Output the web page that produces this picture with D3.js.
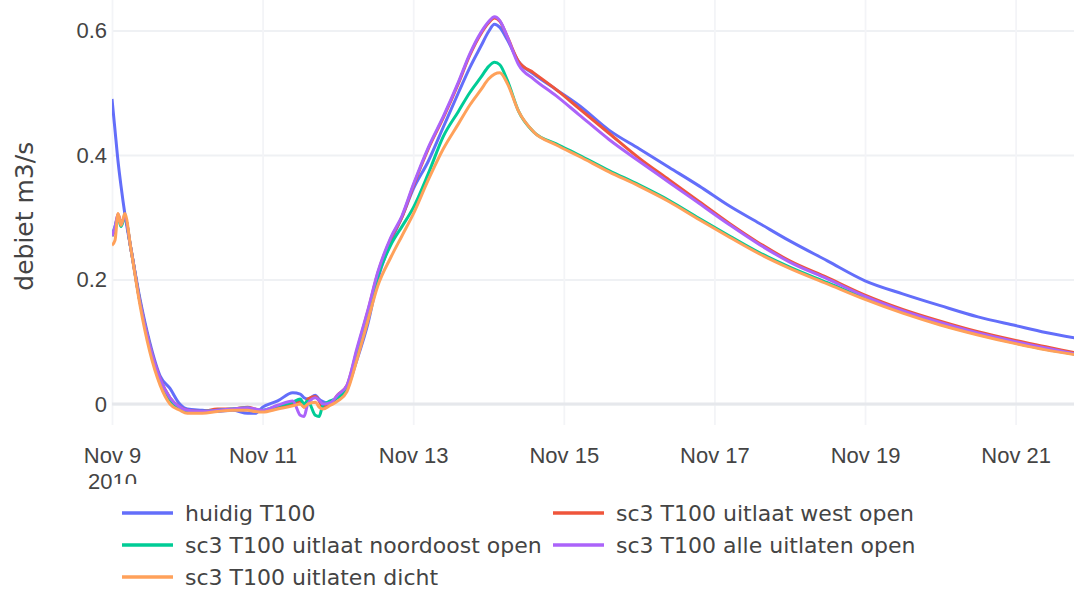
<!DOCTYPE html>
<html>
<head>
<meta charset="utf-8">
<script src="https://cdn.jsdelivr.net/npm/d3@7"></script>
<style>
  body { margin: 0; background: #fff; }
  svg { font-family: "DejaVu Sans", Verdana, sans-serif; }
</style>
</head>
<body>
<svg id="chart" width="1074" height="589"></svg>
<script>
// time in days after Nov 9 2010 00:00
const days = [0, 0.04, 0.08, 0.12, 0.17, 0.25, 0.37, 0.5, 0.64, 0.77,
  0.9, 1.0, 1.2, 1.4, 1.6, 1.8, 1.9, 2.0, 2.2, 2.4,
  2.5, 2.55, 2.6, 2.7, 2.75, 2.8, 2.9, 3.0, 3.12, 3.25,
  3.4, 3.53, 3.7, 3.85, 4.0, 4.2, 4.4, 4.6, 4.75, 4.9,
  5.0, 5.08, 5.15, 5.25, 5.4, 5.6, 5.9, 6.2, 6.6, 7.0,
  7.4, 7.8, 8.2, 8.6, 9.0, 9.5, 10.0, 10.5, 11.0, 11.5,
  12.0, 12.4, 12.8];

const huidig = [0.49, 0.44, 0.39, 0.35, 0.306, 0.25, 0.17, 0.10, 0.045, 0.025,
  0.0, -0.008, -0.01, -0.012, -0.01, -0.015, -0.015, -0.005, 0.005, 0.018,
  0.016, 0.01, 0.008, 0.014, 0.008, 0.004, 0.0, 0.012, 0.025, 0.07,
  0.13, 0.2, 0.26, 0.3, 0.345, 0.39, 0.445, 0.5, 0.54, 0.575,
  0.598, 0.61, 0.605, 0.585, 0.55, 0.53, 0.505, 0.48, 0.44, 0.41,
  0.38, 0.35, 0.318, 0.29, 0.262, 0.23, 0.198, 0.177, 0.158, 0.14,
  0.126, 0.115, 0.106];

const westOpen = [0.27, 0.28, 0.305, 0.29, 0.3, 0.25, 0.165, 0.095, 0.04, 0.01,
  -0.005, -0.01, -0.012, -0.008, -0.008, -0.005, -0.008, -0.012, -0.005, 0.0,
  0.005, -0.005, 0.008, 0.012, 0.005, -0.005, 0.0, 0.015, 0.03, 0.085,
  0.15, 0.21, 0.265, 0.3, 0.35, 0.41, 0.46, 0.515, 0.56, 0.595,
  0.612, 0.62, 0.615, 0.59, 0.55, 0.532, 0.505, 0.475, 0.435, 0.395,
  0.36, 0.325, 0.29, 0.258, 0.23, 0.203, 0.175, 0.152, 0.133, 0.116,
  0.102, 0.092, 0.082];

const noordoostOpen = [0.27, 0.285, 0.3, 0.285, 0.3, 0.25, 0.165, 0.095, 0.035, 0.005,
  -0.008, -0.012, -0.012, -0.01, -0.008, -0.006, -0.01, -0.01, -0.003, 0.003,
  0.008, 0.0, 0.005, -0.018, -0.02, -0.002, 0.005, 0.01, 0.025, 0.08,
  0.145, 0.205, 0.255, 0.285, 0.315, 0.37, 0.43, 0.47, 0.5, 0.525,
  0.542, 0.549, 0.545, 0.52, 0.47, 0.437, 0.418, 0.4, 0.375, 0.352,
  0.327, 0.298, 0.27, 0.243, 0.22, 0.195, 0.17, 0.148, 0.128, 0.112,
  0.098, 0.088, 0.08];

const alleOpen = [0.27, 0.285, 0.305, 0.29, 0.3, 0.25, 0.165, 0.095, 0.04, 0.01,
  -0.005, -0.01, -0.012, -0.01, -0.008, -0.006, -0.008, -0.01, -0.002, 0.005,
  -0.018, -0.02, 0.0, 0.01, 0.006, 0.0, 0.002, 0.015, 0.03, 0.088,
  0.152, 0.212, 0.267, 0.302, 0.352, 0.412, 0.462, 0.517, 0.562, 0.597,
  0.614, 0.622, 0.616, 0.59, 0.545, 0.522, 0.495, 0.465, 0.425, 0.39,
  0.356, 0.322, 0.288, 0.256, 0.228, 0.201, 0.173, 0.15, 0.131, 0.114,
  0.1, 0.09, 0.08];

const uitlatenDicht = [0.255, 0.263, 0.306, 0.287, 0.306, 0.25, 0.16, 0.085, 0.03, 0.0,
  -0.01, -0.015, -0.015, -0.012, -0.01, -0.01, -0.012, -0.013, -0.008, -0.003,
  0.0, -0.005, 0.0, 0.003, -0.005, -0.008, -0.002, 0.005, 0.02, 0.07,
  0.135, 0.19, 0.235, 0.27, 0.305, 0.36, 0.41, 0.45, 0.48, 0.505,
  0.522, 0.53, 0.532, 0.515, 0.47, 0.437, 0.416, 0.398, 0.373, 0.35,
  0.325, 0.296, 0.268, 0.241, 0.218, 0.193, 0.168, 0.146, 0.127, 0.111,
  0.097, 0.087, 0.079];

const seriesNames = ["huidig T100", "sc3 T100 uitlaat west open", "sc3 T100 uitlaat noordoost open",
  "sc3 T100 alle uitlaten open", "sc3 T100 uitlaten dicht"];
const seriesValues = [huidig, westOpen, noordoostOpen, alleOpen, uitlatenDicht];
const seriesColors = ["#636efa", "#ef553b", "#00cc96", "#ab63fa", "#ffa15a"];

const tickDays = [9, 11, 13, 15, 17, 19, 21];
const yTicks = [0, 0.2, 0.4, 0.6];

const start = Date.UTC(2010, 10, 9);
const dayMs = 864e5;

const plot = { left: 112, right: 1074, top: 0, bottom: 425 };
const svg = d3.select("#chart");

const x = d3.scaleUtc()
  .domain([new Date(start), new Date(start + 12.775 * dayMs)])
  .range([plot.left, plot.right]);
const y = d3.scaleLinear()
  .domain([-0.0337, 0.649])
  .range([plot.bottom, plot.top]);

const textColor = "#444";
const gridColor = "#eff1f4";

// gridlines + y tick labels
const yAxis = d3.axisLeft(y)
  .tickValues(yTicks)
  .tickSize(-(plot.right - plot.left))
  .tickPadding(5)
  .tickFormat(d => d === 0 ? "0" : d3.format(".1f")(d));
const gy = svg.append("g")
  .attr("transform", `translate(${plot.left},0)`)
  .call(yAxis);
gy.select(".domain").remove();
gy.selectAll("line").attr("stroke", gridColor).attr("stroke-width", 1.8);
gy.selectAll("text").attr("fill", textColor).style("font-size", "22px");

// x gridlines + labels
const tickDates = tickDays.map(d => new Date(Date.UTC(2010, 10, d)));
const xAxis = d3.axisBottom(x)
  .tickValues(tickDates)
  .tickSize(-(plot.bottom - plot.top))
  .tickPadding(22)
  .tickFormat(d3.utcFormat("Nov %-d"));
const gx = svg.append("g")
  .attr("transform", `translate(0,${plot.bottom})`)
  .call(xAxis);
gx.select(".domain").remove();
gx.selectAll("line").attr("stroke", "#f3f4f7").attr("stroke-width", 1.8);
gx.selectAll("text").attr("fill", textColor).style("font-size", "22px");
gx.select(".tick text")
  .append("tspan")
  .attr("x", 0)
  .attr("dy", "1.2em")
  .text("2010");

// zero line
svg.append("line")
  .attr("x1", plot.left).attr("x2", plot.right)
  .attr("y1", y(0)).attr("y2", y(0))
  .attr("stroke", "#e6e8ec")
  .attr("stroke-width", 3);

// y title
svg.append("text")
  .attr("transform", `translate(24,${(y(0) + y(0.6)) / 2 - 1}) rotate(-90)`)
  .attr("text-anchor", "middle")
  .attr("dy", "0.35em")
  .attr("fill", textColor)
  .style("font-size", "25px")
  .text("debiet m3/s");

svg.append("clipPath").attr("id", "clip")
  .append("rect")
  .attr("x", plot.left).attr("y", plot.top)
  .attr("width", plot.right - plot.left).attr("height", plot.bottom - plot.top);

const line = d3.line()
  .x(d => x(new Date(start + d[0] * dayMs)))
  .y(d => y(d[1]))
  .curve(d3.curveMonotoneX);

svg.append("g")
  .attr("clip-path", "url(#clip)")
  .selectAll("path")
  .data(seriesValues)
  .join("path")
  .attr("fill", "none")
  .attr("stroke", (d, i) => seriesColors[i])
  .attr("stroke-width", 3)
  .attr("stroke-linejoin", "round")
  .attr("d", vals => line(days.map((t, j) => [t, vals[j]])));

// legend (white box covers lower part of the year label)
const legend = svg.append("g");
legend.append("rect")
  .attr("x", 112).attr("y", 484)
  .attr("width", 830).attr("height", 105)
  .attr("fill", "#fff");

const colX = [122, 553];
const items = legend.selectAll("g.item")
  .data(seriesNames)
  .join("g")
  .attr("class", "item")
  .attr("transform", (d, i) => `translate(${colX[i % 2]},${513 + Math.floor(i / 2) * 32})`);
items.append("line")
  .attr("x1", 0).attr("x2", 51)
  .attr("stroke", (d, i) => seriesColors[i])
  .attr("stroke-width", 3.5);
items.append("text")
  .attr("x", 63)
  .attr("dy", "0.35em")
  .attr("fill", textColor)
  .style("font-size", "22px")
  .text(d => d);
</script>
</body>
</html>
